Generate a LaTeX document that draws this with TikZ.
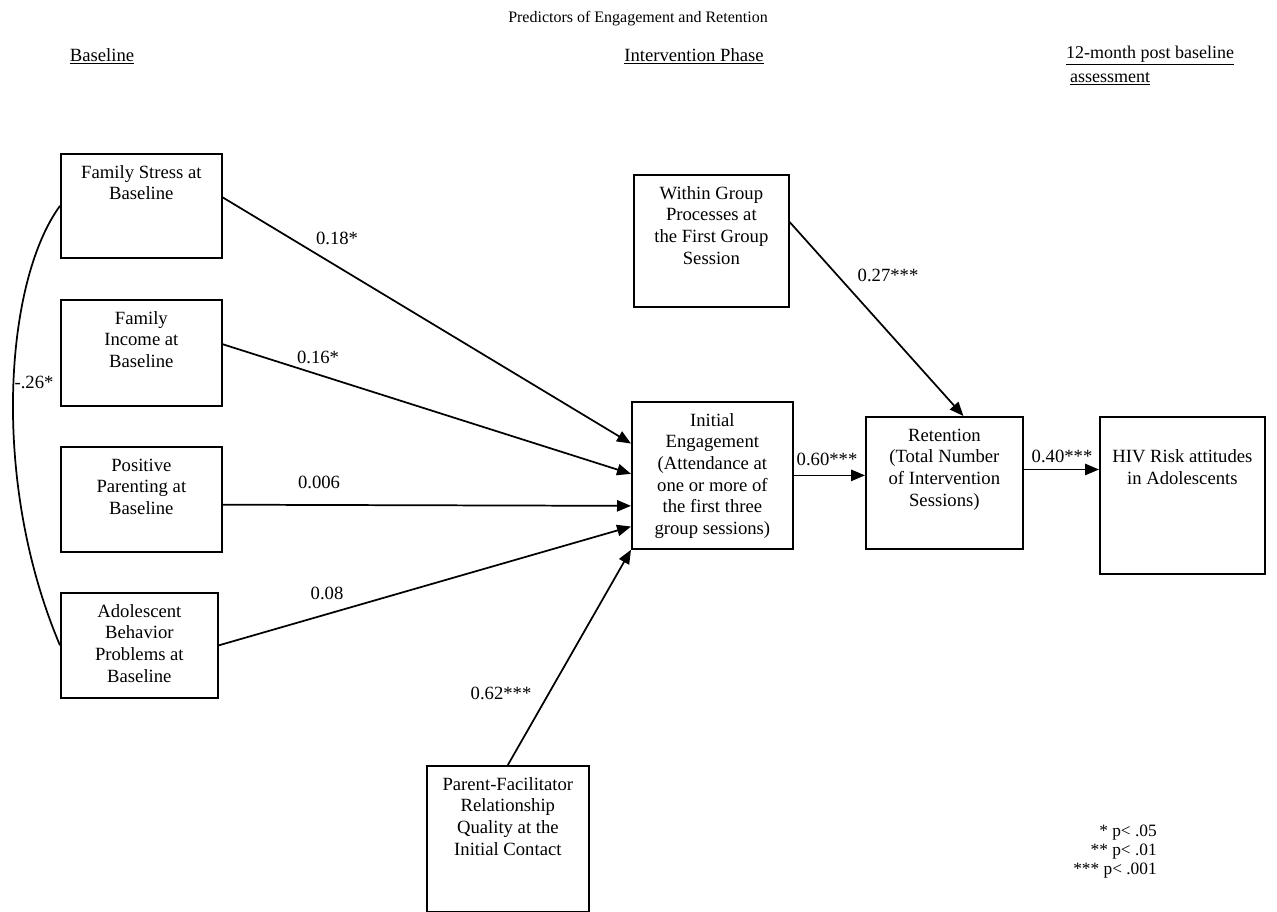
\documentclass[tikz,border=0pt]{standalone}
\usepackage{fontspec}
\setmainfont{Liberation Serif}
\usetikzlibrary{arrows.meta,calc}
\newcommand\bxtext[3]{\parbox[c][#2][t]{#1}{\centering\vspace*{7pt}\strut #3\par}}
\begin{document}
\begin{tikzpicture}[x=0.75pt,y=-0.75pt,
  box/.style={draw, line width=1.3pt, inner sep=0pt, anchor=north west, font=\fontsize{14}{16.2}\selectfont},
  arr/.style={line width=1.3pt, -{Triangle[length=10.5pt,width=8.5pt]}},
  lbl/.style={font=\fontsize{14}{16}\selectfont, inner sep=0pt},
  head/.style={font=\fontsize{14}{16}\selectfont, inner sep=0pt}]
\useasboundingbox (0,0) rectangle (1277,912);

% headings
\node[inner sep=0pt, font=\fontsize{12}{14}\selectfont] (title) at (638,19) {Predictors of Engagement and Retention};
\node[head] (h1) at (102,56) {\underline{Baseline}};
\node[head] (h2) at (694,56) {\underline{Intervention Phase}};
\node[head, font=\fontsize{13.5}{16}\selectfont] (h3) at (1150,56) {\underline{12-month post baseline}};
\node[head, font=\fontsize{13.5}{16}\selectfont] (h4) at (1110,79) {\underline{assessment}};

% boxes
\node[box] (fs) at (60,153) {\bxtext{120.75pt}{78pt}{Family Stress at\\Baseline}};
\node[box] (fi) at (60,299) {\bxtext{120.75pt}{79.5pt}{Family\\Income at\\Baseline}};
\node[box] (pp) at (60,446) {\bxtext{120.75pt}{78.75pt}{Positive\\Parenting at\\Baseline}};
\node[box] (ab) at (60,592) {\bxtext{117.75pt}{78.75pt}{Adolescent\\Behavior\\Problems at\\Baseline}};
\node[box] (wg) at (633,174) {\bxtext{116.25pt}{99pt}{Within Group\\Processes at\\the First Group\\Session}};
\node[box] (ie) at (631,401) {\bxtext{120.75pt}{110.25pt}{Initial\\Engagement\\(Attendance at\\one or more of\\the first three\\group sessions)}};
\node[box] (rt) at (865,416) {\bxtext{117.75pt}{99pt}{Retention\\(Total Number\\of Intervention\\Sessions)}};
\node[box] (hiv) at (1099,416) {\bxtext{123.75pt}{117.75pt}{\mbox{}\\HIV Risk attitudes\\in Adolescents}};
\node[box] (pf) at (426,765) {\bxtext{121.5pt}{109.5pt}{Parent-Facilitator\\Relationship\\Quality at the\\Initial Contact}};

% connectors
\draw[arr] ($(fs.north east)!0.42!(fs.south east)$) -- ($(ie.north west)!0.286!(ie.south west)$);
\draw[arr] ($(fi.north east)!0.42!(fi.south east)$) -- ($(ie.north west)!0.49!(ie.south west)$);
\draw[arr] ($(pp.north east)!0.55!(pp.south east)$) -- ($(ie.north west)!0.705!(ie.south west)$);
\draw[arr] (ab.east) -- ($(ie.north west)!0.844!(ie.south west)$);
\draw[arr] (pf.north) -- (ie.south west);
\draw[arr] ($(wg.north east)!0.36!(wg.south east)$) -- ($(rt.north west)!0.62!(rt.north east)$);
\draw[arr] (ie.east) -- (ie.east -| rt.west);
\coordinate (rtout) at ($(rt.north east)!0.4!(rt.south east)$);
\draw[arr] (rtout) -- (rtout -| hiv.west);
\draw[line width=1.3pt] (fs.west) .. controls ($(fs.west)+(-55,75)$) and ($(ab.west)+(-70,-165)$) .. (ab.west);

% labels
\node[lbl] (l1) at (337,238) {0.18*};
\node[lbl] (l2) at (318,357) {0.16*};
\node[lbl] (l3) at (319,482) {0.006};
\node[lbl] (l4) at (327,593) {0.08};
\node[lbl] (l5) at (501,693) {0.62***};
\node[lbl] (l6) at (888,275) {0.27***};
\node[lbl] (l7) at (827,459) {0.60***};
\node[lbl] (l8) at (1062,456) {0.40***};
\node[lbl] (l9) at (34,382) {-.26*};

% legend
\node[inner sep=0pt, anchor=east, align=right, font=\fontsize{13}{14.25}\selectfont] (leg) at (1157,852) {* p< .05\\** p< .01\\*** p< .001};
\end{tikzpicture}
\end{document}
